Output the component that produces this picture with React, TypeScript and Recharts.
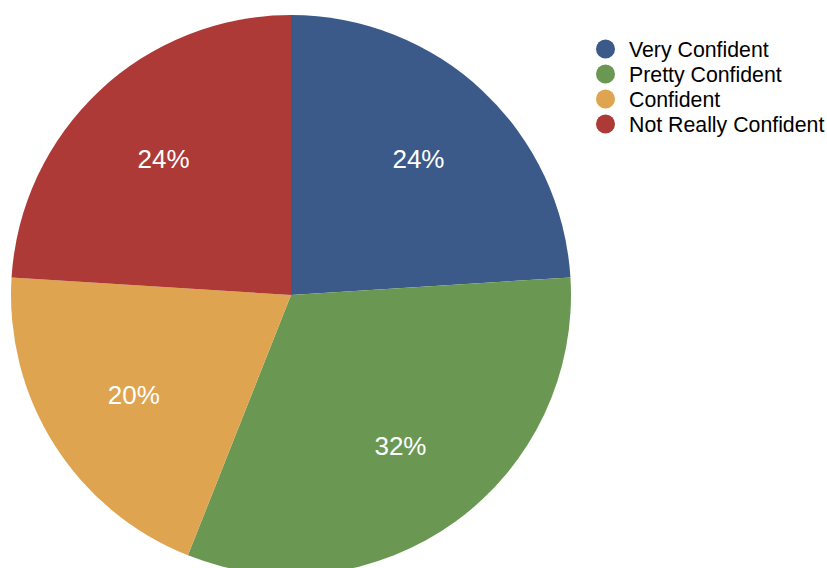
import React from "react";
import { PieChart, Pie, Cell, Legend } from "recharts";

const categories = ["Very Confident", "Pretty Confident", "Confident", "Not Really Confident"];
const values = [24, 32, 20, 24];
const colors = ["#3b5a8a", "#6a9853", "#dea44f", "#ae3a37"];

const data = categories.map((name, i) => ({ name, value: values[i] }));
const total = values.reduce((a, b) => a + b, 0);

const FONT = '"Liberation Sans", Arial, Helvetica, sans-serif';
const RAD = Math.PI / 180;

const renderLabel = (props: any) => {
  const { cx, cy, midAngle, outerRadius, value } = props;
  const r = outerRadius * 0.665;
  const x = cx + r * Math.cos(-midAngle * RAD);
  const y = cy + r * Math.sin(-midAngle * RAD);
  return (
    <text
      x={x}
      y={y + 9}
      fill="#ffffff"
      textAnchor="middle"
      fontFamily={FONT}
      fontSize={26}
    >
      {`${Math.round((value / total) * 100)}%`}
    </text>
  );
};

const renderLegend = () => {
  return (
    <svg width={827} height={150} style={{ display: "block" }}>
      {categories.map((name, i) => (
        <g key={name}>
          <circle cx={605.5} cy={49 + i * 25} r={9.5} fill={colors[i]} />
          <text
            x={629}
            y={49 + i * 25 + 7.5}
            fontFamily={FONT}
            fontSize={21.3}
            fill="#000000"
          >
            {name}
          </text>
        </g>
      ))}
    </svg>
  );
};

export default function App() {
  return (
    <div style={{ position: "absolute", left: 0, top: 0, width: 827, height: 568, background: "#ffffff" }}>
      <PieChart width={827} height={568} margin={{ top: 0, right: 0, bottom: 0, left: 0 }}>
        <Pie
          data={data}
          dataKey="value"
          nameKey="name"
          cx={291}
          cy={295}
          outerRadius={280}
          innerRadius={0}
          startAngle={90}
          endAngle={-270}
          stroke="none"
          label={renderLabel}
          labelLine={false}
          isAnimationActive={false}
        >
          {data.map((d, i) => (
            <Cell key={d.name} fill={colors[i]} />
          ))}
        </Pie>
        <Legend
          content={renderLegend}
          wrapperStyle={{ position: "absolute", left: 0, top: 0, width: 827, height: 150 }}
        />
      </PieChart>
    </div>
  );
}
